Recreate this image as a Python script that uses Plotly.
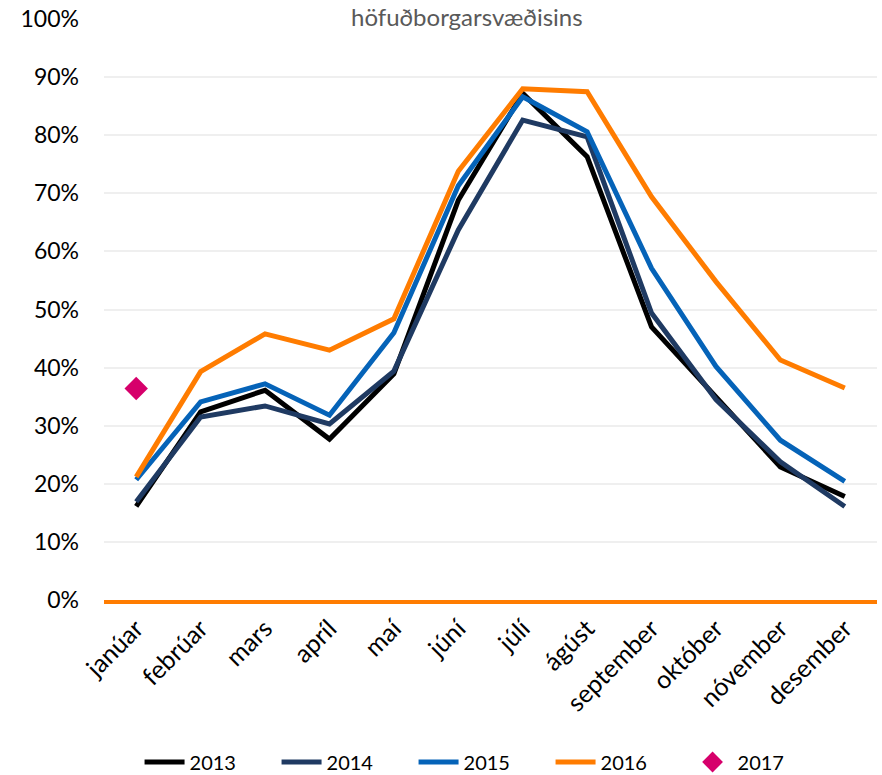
import plotly.graph_objects as go

months = ["janúar", "febrúar", "mars", "apríl", "maí", "júní", "júlí", "ágúst",
          "september", "október", "nóvember", "desember"]
y2013 = [0.161, 0.324, 0.361, 0.277, 0.389, 0.688, 0.872, 0.763, 0.470, 0.348, 0.229, 0.178]
y2014 = [0.169, 0.315, 0.334, 0.303, 0.394, 0.637, 0.826, 0.797, 0.494, 0.345, 0.238, 0.161]
y2015 = [0.207, 0.341, 0.372, 0.318, 0.460, 0.713, 0.866, 0.806, 0.571, 0.402, 0.275, 0.204]
y2016 = [0.212, 0.393, 0.458, 0.430, 0.484, 0.738, 0.880, 0.875, 0.694, 0.548, 0.413, 0.365]
x2017 = ["janúar"]
y2017 = [0.364]
title_text = "höfuðborgarsvæðisins"

FONT = "Lato"
fig = go.Figure()
series = [("2013", y2013, "#000000"), ("2014", y2014, "#1f3a62"),
          ("2015", y2015, "#0563b8"), ("2016", y2016, "#ff7c00")]
for name, ys, col in series:
    fig.add_trace(go.Scatter(x=months, y=ys, name=name, mode="lines",
                             line=dict(color=col, width=5)))
fig.add_trace(go.Scatter(x=x2017, y=y2017, name="2017", mode="markers",
                         marker=dict(symbol="diamond", color="#d6006b", size=18)))

fig.update_layout(
    width=882, height=775,
    margin=dict(l=104, r=5, t=19, b=175, autoexpand=False),
    paper_bgcolor="white", plot_bgcolor="white",
    font=dict(family=FONT, size=20, color="#000000"),
    showlegend=True,
    legend=dict(orientation="h", x=0.046, xanchor="left",
                yref="container", y=0.0168, yanchor="middle",
                font=dict(size=20), itemwidth=40, entrywidth=82,
                entrywidthmode="pixels", tracegroupgap=0),
    annotations=[dict(text=title_text, xref="paper", yref="paper", x=0.47, y=1.0327,
                      xanchor="center", yanchor="top", showarrow=False,
                      font=dict(size=24, color="#595959", family=FONT))],
)
fig.update_yaxes(range=[0, 1.0], dtick=0.1, tickformat=".0%", showgrid=True,
                 gridcolor="#efefef", gridwidth=2, zeroline=False, automargin=False,
                 ticklabelstandoff=24, tickfont=dict(size=23))
fig.update_xaxes(showgrid=False, showline=True, linecolor="#ff7c00", linewidth=4,
                 automargin=False, tickangle=-45, tickfont=dict(size=25),
                 range=[-0.5, 11.5])

fig.write_html("out.html", config={"displayModeBar": False},
               post_script="document.body.style.margin='0';")
